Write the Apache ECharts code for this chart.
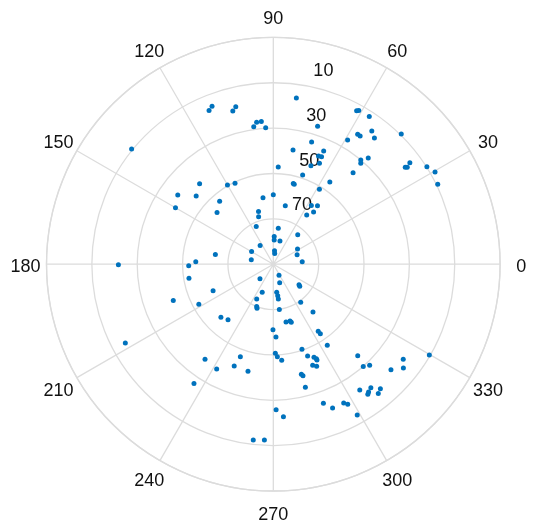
<!DOCTYPE html>
<html>
<head>
<meta charset="utf-8">
<script src="https://cdn.jsdelivr.net/npm/echarts@6/dist/echarts.min.js"></script>
<style>
html,body{margin:0;padding:0;background:#fff;}
#chart{width:535px;height:530px;}
</style>
</head>
<body>
<div id="chart"></div>
<script>
// Azimuth (deg, counter-clockwise from east) and elevation (deg, 90 at centre)
const azimuth = [
  82.1, 61.5, 60.9, 57.0, 72.2, 53.5, 45.5, 57.0, 55.9, 51.3,
  59.1, 72.6, 80.2, 66.0, 67.3, 65.8, 65.4, 69.1, 50.0, 49.1,
  48.2, 36.3, 35.9, 36.6, 32.4, 29.7, 25.9, 48.9, 55.5, 58.4,
  87.1, 71.8, 76.1, 75.3, 90.0, 98.8, 78.4, 57.0, 52.9, 52.4,
  55.8, 82.1, 88.1, 87.9, 73.9, 50.4, 84.8, 82.7, 32.1, 21.7,
  4.9, 94.8, 96.7, 98.1, 93.2, 111.2, 112.7, 103.4, 104.8, 140.9,
  132.5, 120.1, 115.3, 144.1, 138.5, 150.0, 130.4, 137.4, 105.7, 107.2,
  114.4, 125.1, 149.5, 168.7, 170.5, 178.2, 181.0, 180.2, 189.5, 227.5,
  203.7, 248.4, 199.9, 208.3, 244.5, 248.5, 249.7, 225.4, 230.8, 208.0,
  234.3, 250.4, 241.6, 249.0, 256.7, 236.4, 263.5, 267.1, 297.2, 289.1,
  321.4, 320.1, 276.9, 278.0, 278.2, 305.7, 277.6, 309.7, 282.4, 286.4,
  287.2, 269.7, 303.8, 304.1, 272.1, 303.7, 288.6, 271.3, 272.5, 275.0,
  290.5, 293.6, 294.5, 294.5, 291.3, 293.0, 312.7, 311.3, 313.6, 323.8,
  321.4, 318.1, 329.8, 284.3, 284.9, 284.6, 304.5, 308.3, 306.7, 306.0,
  310.7, 309.1, 289.8, 292.4, 296.9, 298.0, 299.1, 271.1, 273.8
];
const elevation = [
  16.0, 13.0, 12.5, 12.3, 26.1, 17.0, 9.5, 21.7, 21.7, 18.7,
  26.2, 33.5, 38.9, 35.4, 38.3, 38.1, 41.1, 43.5, 30.0, 31.1,
  27.2, 17.8, 17.1, 15.0, 9.8, 7.9, 9.4, 36.5, 46.0, 51.2,
  47.1, 48.6, 53.3, 53.6, 59.4, 60.3, 63.7, 59.2, 57.7, 60.9,
  63.8, 74.0, 77.8, 79.3, 79.4, 73.1, 84.1, 85.2, 77.4, 78.7,
  77.2, 26.9, 27.0, 28.8, 29.7, 15.3, 16.6, 18.6, 20.1, 9.5,
  41.9, 49.7, 50.5, 38.0, 44.6, 40.2, 53.5, 56.3, 65.9, 68.1,
  71.8, 79.9, 78.9, 80.1, 64.1, 55.8, 52.7, 21.7, 52.3, 81.3,
  61.0, 76.7, 43.1, 52.7, 73.0, 70.0, 69.3, 57.1, 58.4, 16.1,
  38.4, 46.7, 37.5, 41.9, 41.5, 26.8, 12.0, 12.4, 84.5, 81.4,
  75.5, 74.8, 77.5, 76.0, 74.5, 69.3, 69.9, 62.6, 63.9, 63.9,
  63.2, 61.1, 54.4, 53.0, 57.9, 47.1, 50.4, 50.7, 49.2, 47.5,
  46.8, 45.2, 44.2, 43.6, 42.2, 41.1, 35.1, 29.9, 28.4, 19.0,
  16.6, 20.3, 10.4, 39.9, 39.1, 33.9, 22.7, 20.6, 19.7, 19.1,
  17.6, 16.6, 24.8, 21.4, 21.4, 20.1, 13.9, 25.8, 22.6
];
const radialTickLabels = [10, 30, 50, 70];
const angleTickLabels = [0, 30, 60, 90, 120, 150, 180, 210, 240, 270, 300, 330];

const GRID = '#dcdcdc';
const TXT = '#111111';
const FONT = "'Liberation Sans', Arial, Helvetica, sans-serif";
const CX = 273.3, CY = 264.2, R = 226.8;
const ANGLE_LABEL_R = -19.3; // radial position (axis units) of the angle tick labels, just outside the rim

const chart = echarts.init(document.getElementById('chart'), null, {renderer: 'canvas'});
const points = azimuth.map((a, i) => [elevation[i], a]);
const angleLabelPoints = angleTickLabels.map(a => ({value: [ANGLE_LABEL_R, a], name: String(a)}));

chart.setOption({
  animation: false,
  backgroundColor: '#ffffff',
  polar: [
    {center: [CX, CY], radius: R},
    {center: [CX + 21.7, CY - 14], radius: R}
  ],
  angleAxis: [
    {
      polarIndex: 0, type: 'value', min: 0, max: 360, interval: 30,
      startAngle: 0, clockwise: false,
      axisLine: {show: true, lineStyle: {color: GRID, width: 1.3}},
      axisTick: {show: false},
      splitLine: {show: true, lineStyle: {color: GRID, width: 1.3}},
      axisLabel: {show: false}
    },
    {
      polarIndex: 1, type: 'value', min: 0, max: 360, startAngle: 81, clockwise: false,
      show: false
    }
  ],
  radiusAxis: [
    {
      polarIndex: 0, type: 'value', inverse: true, min: -10, max: 90, interval: 20,
      axisLine: {show: false}, axisTick: {show: false}, axisLabel: {show: false},
      splitLine: {show: true, lineStyle: {color: GRID, width: 1.3}}
    },
    {
      polarIndex: 1, type: 'value', inverse: true, min: -10, max: 90, interval: 20,
      axisLine: {show: false}, axisTick: {show: false}, splitLine: {show: false},
      axisLabel: {
        show: true, margin: 0, fontSize: 18, color: TXT, fontFamily: FONT,
        align: 'center', verticalAlign: 'middle',
        formatter: v => radialTickLabels.indexOf(v) >= 0 ? String(v) : ''
      }
    }
  ],
  series: [
    {
      type: 'scatter', coordinateSystem: 'polar', polarIndex: 0,
      symbol: 'circle', symbolSize: 5,
      itemStyle: {color: '#0072BD', opacity: 1},
      data: points, z: 3
    },
    {
      type: 'scatter', coordinateSystem: 'polar', polarIndex: 0,
      clip: false, silent: true,
      symbol: 'circle', symbolSize: 1,
      itemStyle: {color: '#ffffff', opacity: 1},
      label: {
        show: true, position: 'inside', fontSize: 18, color: TXT, fontFamily: FONT,
        opacity: 1, textBorderWidth: 0, offset: [0, 2.5],
        align: 'center', verticalAlign: 'middle',
        formatter: p => p.name
      },
      data: angleLabelPoints
    }
  ]
});
</script>
</body>
</html>
